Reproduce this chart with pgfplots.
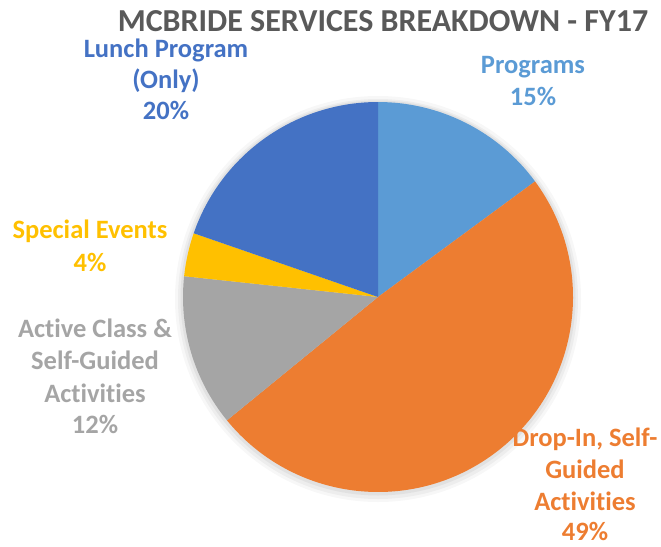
\documentclass[border=0pt]{standalone}
\usepackage{fontspec}
\setmainfont{Carlito}[Ligatures=NoCommon]
\usepackage{pgfplots}
\usepackage{pgfplotstable}
\pgfplotsset{compat=1.18}

\definecolor{col0}{HTML}{5B9BD5}
\definecolor{col1}{HTML}{ED7D31}
\definecolor{col2}{HTML}{A5A5A5}
\definecolor{col3}{HTML}{FFC000}
\definecolor{col4}{HTML}{4472C4}
\definecolor{titlegray}{HTML}{595959}

% shares in percent, clockwise from 12 o'clock
\pgfplotstableread{
slice value
Programs 14.9
DropIn 49.2
Active 12.6
Special 3.6
Lunch 19.7
}\piedata
\pgfplotstablecreatecol[create col/expr accum={\pgfmathaccuma + \thisrow{value}}{0}]{cum}{\piedata}

\newcommand\R{195pt}
\newcommand\lbl[4]{\node[anchor=base, text=#1, font=\fontsize{26.5}{30}\selectfont\bfseries] at (axis cs:#2,#3) {#4};}

\begin{document}
\begin{tikzpicture}
\begin{axis}[
    x=1pt, y=1pt,
    xmin=0, xmax=661, ymin=0, ymax=546,
    y dir=reverse,
    hide axis, clip=false,
]
\path (axis cs:0,0) rectangle (axis cs:661,546);
% soft shadow
\fill[black, opacity=0.03] (axis cs:378,299) circle[radius=203pt];
\fill[black, opacity=0.04] (axis cs:378,299) circle[radius=200pt];
\fill[black, opacity=0.05] (axis cs:378,298) circle[radius=197.5pt];
\pgfplotsinvokeforeach{0,...,4}{
  \pgfplotstablegetelem{#1}{cum}\of\piedata \let\cumv\pgfplotsretval
  \pgfplotstablegetelem{#1}{value}\of\piedata \let\val\pgfplotsretval
  \pgfmathsetmacro\ea{90-3.6*\cumv}
  \pgfmathsetmacro\sa{90-3.6*(\cumv-\val)}
  \edef\temp{\noexpand\fill[col#1] (axis cs:378,297) -- ++(\sa:\R) arc[start angle=\sa, end angle=\ea, radius=\R] -- cycle;}
  \temp
}
\node[anchor=base, text=titlegray, font=\fontsize{32}{36}\selectfont\bfseries] at (axis cs:383,31) {MCBRIDE SERVICES BREAKDOWN - FY17};
\lbl{col4}{166}{57}{Lunch Program}
\lbl{col4}{166}{88}{(Only)}
\lbl{col4}{166}{119}{20\%}
\lbl{col0}{533}{73}{Programs}
\lbl{col0}{533}{105}{15\%}
\lbl{col3}{90}{238}{Special Events}
\lbl{col3}{90}{271}{4\%}
\lbl{col2}{95}{337}{Active Class \&}
\lbl{col2}{95}{369}{Self-Guided}
\lbl{col2}{95}{402}{Activities}
\lbl{col2}{95}{433}{12\%}
\lbl{col1}{585}{446}{Drop-In, Self-}
\lbl{col1}{585}{478}{Guided}
\lbl{col1}{585}{510}{Activities}
\lbl{col1}{585}{540}{49\%}
\end{axis}
\end{tikzpicture}
\end{document}
